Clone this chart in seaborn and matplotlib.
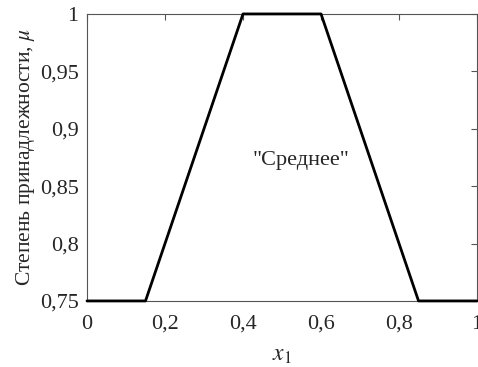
import pandas as pd
import matplotlib
matplotlib.use("Agg")
import matplotlib.pyplot as plt
import seaborn as sns
from matplotlib.ticker import FuncFormatter

# Трапециевидная функция принадлежности "Среднее"
x_vals = [0.0, 0.15, 0.4, 0.6, 0.85, 1.0]
mu_vals = [0.75, 0.75, 1.0, 1.0, 0.75, 0.75]
x_ticks = [0, 0.2, 0.4, 0.6, 0.8, 1]
y_ticks = [0.75, 0.8, 0.85, 0.9, 0.95, 1]
label_text = '"Среднее"'

df = pd.DataFrame({'x': x_vals, 'mu': mu_vals})

sns.set_style('white')
plt.rcParams['font.family'] = ['Liberation Serif', 'DejaVu Serif']
plt.rcParams['mathtext.fontset'] = 'stix'

fig = plt.figure(figsize=(4.78, 3.67), dpi=100)
ax = fig.add_axes([0.182, 0.180, 0.816, 0.782])

sns.lineplot(data=df, x='x', y='mu', color='black', linewidth=2, ax=ax,
             sort=False, clip_on=False, zorder=5)

ax.set_xlim(0, 1)
ax.set_ylim(0.75, 1)
ax.set_xticks(x_ticks)
ax.set_yticks(y_ticks)

def comma_fmt(v, pos):
    s = ('%g' % v).replace('.', ',')
    return s

ax.xaxis.set_major_formatter(FuncFormatter(comma_fmt))
ax.yaxis.set_major_formatter(FuncFormatter(comma_fmt))

ax.tick_params(direction='in', length=4, width=0.8, color='#555555',
               top=True, right=True, labelsize=16, pad=6)
ax.tick_params(axis='x', pad=10)
for sp in ax.spines.values():
    sp.set_color('#555555')
    sp.set_linewidth(0.8)

ax.set_xlabel('$x_1$', fontsize=17, labelpad=8)
ax.set_ylabel('Степень принадлежности, $\\mu$', fontsize=15.5, labelpad=2)

ax.text(0.55, 0.872, label_text, fontsize=16, ha='center', va='center')

fig.savefig('out.png', dpi=100)
